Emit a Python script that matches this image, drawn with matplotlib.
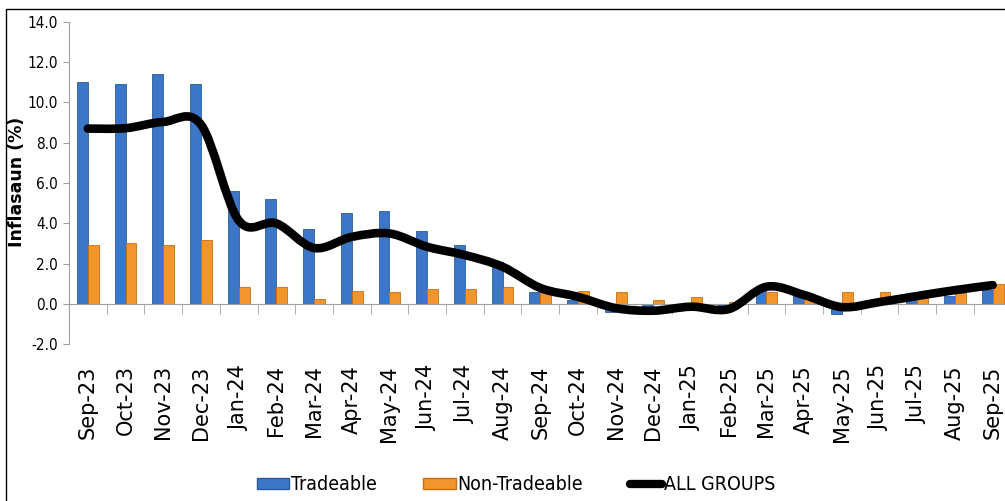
import matplotlib.pyplot as plt
from matplotlib.path import Path
from matplotlib.patches import PathPatch, Patch, Rectangle
from matplotlib.lines import Line2D
import numpy as np

months = ["Sep-23", "Oct-23", "Nov-23", "Dec-23", "Jan-24", "Feb-24", "Mar-24",
          "Apr-24", "May-24", "Jun-24", "Jul-24", "Aug-24", "Sep-24", "Oct-24",
          "Nov-24", "Dec-24", "Jan-25", "Feb-25", "Mar-25", "Apr-25", "May-25",
          "Jun-25", "Jul-25", "Aug-25", "Sep-25"]
tradeable = [11.0, 10.9, 11.4, 10.9, 5.6, 5.2, 3.7, 4.5, 4.6, 3.6, 2.95, 2.1, 0.6,
             0.2, -0.4, -0.25, -0.1, -0.15, 0.7, 0.4, -0.5, -0.05, 0.35, 0.42, 0.7]
non_tradeable = [2.95, 3.05, 2.95, 3.2, 0.83, 0.83, 0.27, 0.66, 0.58, 0.74, 0.74, 0.83,
                 0.69, 0.66, 0.58, 0.18, 0.33, 0.1, 0.62, 0.3, 0.58, 0.58, 0.5, 0.53, 0.98]
all_groups = [8.7, 8.72, 9.03, 8.9, 4.15, 4.0, 2.78, 3.33, 3.5, 2.84, 2.43, 1.85, 0.8,
              0.36, -0.2, -0.33, -0.13, -0.25, 0.86, 0.45, -0.15, 0.1, 0.4, 0.69, 0.94]

blue = "#3B77C6"
orange = "#F2962C"

fig = plt.figure(figsize=(10.05, 5.01), dpi=100)
ax = fig.add_axes([69 / 1005, 1 - 344.4 / 501, 942.5 / 1005, 322.7 / 501])

x = np.arange(len(months))
w = 0.29
ax.bar(x - w / 2, tradeable, w, color=blue, edgecolor="#2C5B9C", linewidth=0.6, zorder=2)
ax.bar(x + w / 2, non_tradeable, w, color=orange, edgecolor="#C76F14", linewidth=0.6, zorder=2)

# smoothed line (Excel style bezier through the points)
pts = np.column_stack([x, all_groups])
verts = [pts[0]]
codes = [Path.MOVETO]
for i in range(len(pts) - 1):
    p0 = pts[i - 1] if i > 0 else pts[i]
    p1, p2 = pts[i], pts[i + 1]
    p3 = pts[i + 2] if i + 2 < len(pts) else pts[i + 1]
    verts += [p1 + (p2 - p0) / 6, p2 - (p3 - p1) / 6, p2]
    codes += [Path.CURVE4] * 3
ax.add_patch(PathPatch(Path(verts, codes), facecolor="none", edgecolor="black",
                       linewidth=6.2, capstyle="round", joinstyle="round", zorder=3))

ax.set_xlim(-0.5, len(months) - 0.5)
ax.set_ylim(-2, 14)
ax.set_yticks(np.arange(-2, 14.1, 2))
ax.set_yticklabels([f"{v:.1f}" for v in np.arange(-2, 14.1, 2)],
                   fontstretch="condensed", fontsize=11)

ax.spines["top"].set_visible(False)
ax.spines["right"].set_visible(False)
ax.spines["left"].set_color("#A0A0A0")
ax.spines["bottom"].set_color("#A0A0A0")
ax.spines["bottom"].set_position(("data", 0))
ax.tick_params(axis="y", direction="out", length=4, color="#A0A0A0", pad=4)

ax.set_xticks(x)
ax.set_xticklabels(months, rotation=90, fontsize=15, va="top", ha="center")
ax.set_xticks(np.arange(-0.5, len(months), 1), minor=True)
ax.tick_params(axis="x", which="major", length=0, pad=44)
ax.tick_params(axis="x", which="minor", length=7, direction="out", color="#A0A0A0")

fig.text(17.5 / 1005, 1 - 182 / 501, "Inflasaun (%)", rotation=90, ha="center",
         va="center", fontsize=12.5, fontweight="bold")

handles = [Patch(facecolor=blue, edgecolor="#2C5B9C"),
           Patch(facecolor=orange, edgecolor="#C76F14"),
           Line2D([0], [0], color="black", linewidth=6, solid_capstyle="round")]
fig.legend(handles, ["Tradeable", "Non-Tradeable", "ALL GROUPS"], loc="center",
           bbox_to_anchor=(516 / 1005, 1 - 485 / 501), ncol=3, frameon=False,
           prop={"size": 14, "stretch": "condensed"}, handlelength=1.65,
           handleheight=0.5, handletextpad=0.1, columnspacing=2.4)

fig.patches.append(Rectangle((6 / 1005, -0.1), 1.2, 1 - 9 / 501 + 0.1,
                             transform=fig.transFigure, fill=False,
                             edgecolor="black", linewidth=1))

fig.savefig("out.png", dpi=100)
